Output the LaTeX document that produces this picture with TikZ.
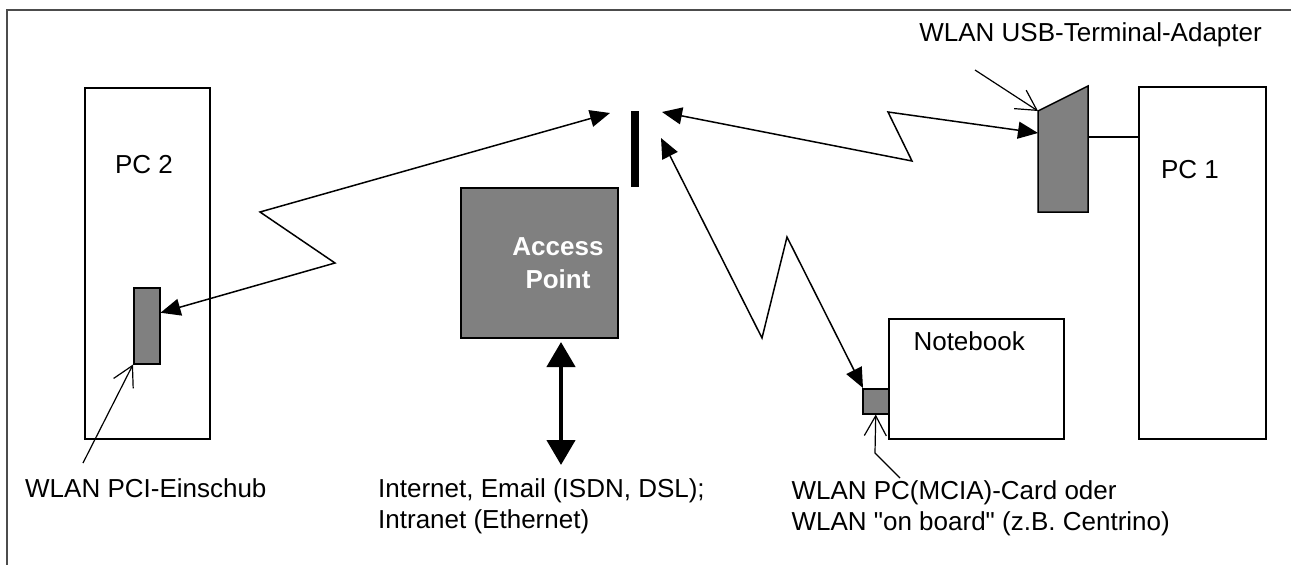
\documentclass[tikz,border=0pt]{standalone}
\usepackage{fontspec}
\newfontfamily\labelfont{Liberation Sans}
\usetikzlibrary{arrows.meta}

\begin{document}
\begin{tikzpicture}[
		x=1pt, y=-1pt,
		every node/.style = {font=\labelfont\fontsize{26}{31}\selectfont},
		frame/.style = {draw=black!70, line width=2pt},
		pcbox/.style = {draw, line width=1.5pt, inner sep=0pt, anchor=north west},
		card/.style = {draw, fill=black!50, line width=1.5pt, inner sep=0pt, anchor=north west},
		txt/.style = {inner sep=0pt, align=left},
		radio/.style = {line width=1.5pt, line join=miter,
			{Triangle[length=20pt,width=17pt]}-{Triangle[length=20pt,width=17pt]}},
		callout/.style = {line width=1.2pt, -{Straight Barb[length=20pt,width=22pt]}},
		bigarrow/.style = {line width=4.5pt,
			{Triangle[length=25pt,width=28pt]}-{Triangle[length=25pt,width=28pt]}}]
		\useasboundingbox (0,0) rectangle (1291,565);
		\draw[frame] (7,565) -- (7,10) -- (1291,10);
		% PC 2 with PCI card
		\node[pcbox, minimum width=125pt, minimum height=351pt] (pc2) at (84,87) {};
		\node (pc2label) at (144,165) {PC 2};
		\node[card, minimum width=26pt, minimum height=76pt] (pcicard) at (133,287) {};
		% access point
		\node[card, minimum width=157pt, minimum height=150pt] (ap) at (460,187) {};
		\node[text=white, font=\labelfont\fontsize{26}{33}\selectfont\bfseries, align=center] (aplabel) at (558,263) {Access\\Point};
		\coordinate (anttop) at (635,111);
		\draw[line width=8pt] (anttop) -- (anttop |- ap.north);
		\coordinate (apL) at (610,113);
		\coordinate (apR) at (662,112);
		\coordinate (apD) at (661,138);
		% notebook
		\node[pcbox, minimum width=175pt, minimum height=120pt] (nb) at (888,318) {};
		\node[anchor=north west] (nblabel) at (910,328) {Notebook};
		\node[card, minimum width=26pt, minimum height=25pt] (pccard) at (862,388) {};
		% PC 1 with USB adapter
		\node[pcbox, minimum width=127pt, minimum height=352pt] (pc1) at (1138,86) {};
		\node (pc1label) at (1190,170) {PC 1};
		\draw[line width=1.5pt, fill=black!50] (1038,111) coordinate (usbtl) -- (1088,86)
			-- (1088,212) -- (1038,212) -- cycle;
		\coordinate (usbL) at (1038,133);
		\coordinate (usbR) at (1088,137);
		\draw[line width=1.5pt] (usbR) -- (usbR -| pc1.west);
		% radio links
		\draw[radio] ([yshift=13pt]pcicard.east) -- (335,263) -- (260,212) -- (apL);
		\draw[radio] (apR) -- (912,161) -- (888,112) -- (usbL);
		\draw[radio] (apD) -- (762,338) -- (787,237) -- ([xshift=1pt]pccard.north west);
		% network
		\node[txt, anchor=north west] (inet) at (378,478) {Internet, Email (ISDN, DSL);\\Intranet (Ethernet)};
		\coordinate (apfoot) at (561,342);
		\draw[bigarrow] (apfoot) -- (apfoot |- 0,465);
		% labels
		\node[txt, anchor=west] (pcitext) at (25,488) {WLAN PCI-Einschub};
		\node[txt, anchor=north east] (pcmtext) at (1170,480) {WLAN PC(MCIA)-Card oder\\WLAN "on board" (z.B. Centrino)};
		\node[txt, anchor=north east] (usbtext) at (1262,22) {WLAN USB-Terminal-Adapter};
		\coordinate (pcifoot) at (83,463);
		\coordinate (pcmfoot) at (900,478);
		\coordinate (usbfoot) at (975,70);
		\draw[callout] (pcifoot) -- (pcicard.south west);
		\draw[callout] (pcmfoot) -- (875,453) -- (pccard.south);
		\draw[callout] (usbfoot) -- (usbtl);
\end{tikzpicture}
\end{document}
